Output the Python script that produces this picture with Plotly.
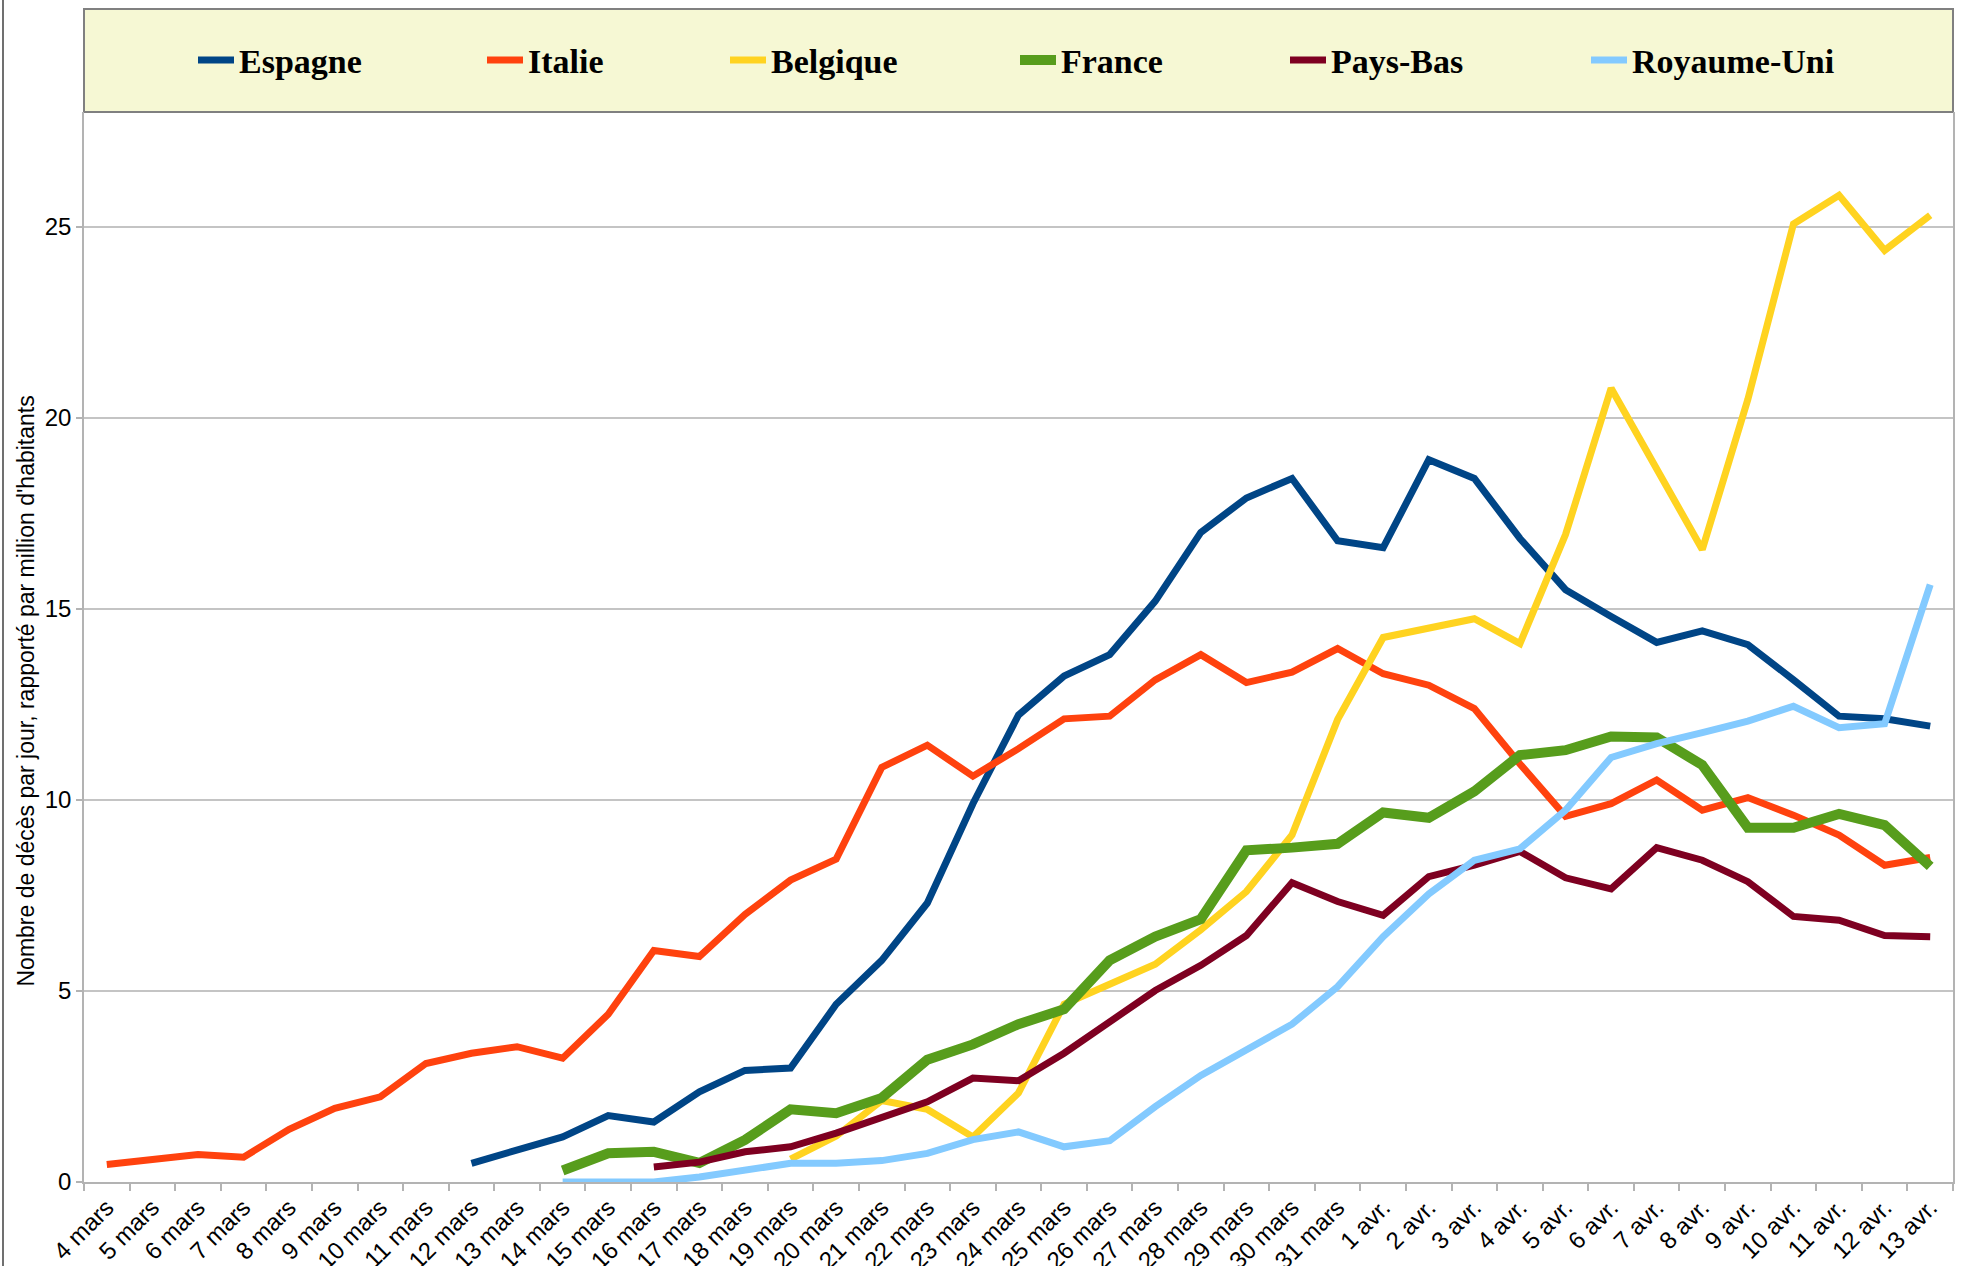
import plotly.graph_objects as go

categories = ["4 mars", "5 mars", "6 mars", "7 mars", "8 mars", "9 mars", "10 mars", "11 mars",
              "12 mars", "13 mars", "14 mars", "15 mars", "16 mars", "17 mars", "18 mars",
              "19 mars", "20 mars", "21 mars", "22 mars", "23 mars", "24 mars", "25 mars",
              "26 mars", "27 mars", "28 mars", "29 mars", "30 mars", "31 mars", "1 avr.",
              "2 avr.", "3 avr.", "4 avr.", "5 avr.", "6 avr.", "7 avr.", "8 avr.", "9 avr.",
              "10 avr.", "11 avr.", "12 avr.", "13 avr."]

N = None
espagne = [N, N, N, N, N, N, N, N,
           0.49, 0.82, 1.18, 1.74, 1.57, 2.36, 2.92, 2.98, 4.65, 5.8, 7.3, 9.9, 12.22,
           13.24, 13.8, 15.2, 17.0, 17.9, 18.41, 16.78, 16.6, 18.9, 18.41, 16.84, 15.5,
           14.8, 14.12, 14.42, 14.06, 13.14, 12.19, 12.12, 11.93]
italie = [0.46, 0.6, 0.72, 0.65, 1.38, 1.93, 2.23, 3.1, 3.37, 3.54, 3.24, 4.39, 6.06,
          5.9, 7.0, 7.9, 8.45, 10.85, 11.43, 10.62, 11.34, 12.12, 12.19, 13.14, 13.8,
          13.07, 13.34, 13.96, 13.3, 13.0, 12.39, 10.94, 9.57, 9.9, 10.52, 9.73, 10.06,
          9.6, 9.08, 8.29, 8.49]
belgique = [N, N, N, N, N, N, N, N, N, N, N, N, N, N, N,
            0.6, 1.2, 2.13, 1.9, 1.18, 2.33, 4.65, 5.2, 5.7, 6.6, 7.6, 9.08, 12.1, 14.25,
            14.5, 14.74, 14.09, 16.94, 20.77, 18.68, 16.55, 20.48, 25.07, 25.82, 24.38, 25.3]
france = [N, N, N, N, N, N, N, N, N, N,
          0.3, 0.75, 0.79, 0.5, 1.1, 1.9, 1.8, 2.2, 3.2, 3.6, 4.13, 4.52, 5.8, 6.42, 6.88,
          8.68, 8.75, 8.85, 9.67, 9.53, 10.22, 11.17, 11.3, 11.66, 11.63, 10.91, 9.27,
          9.27, 9.63, 9.34, 8.26]
pays_bas = [N, N, N, N, N, N, N, N, N, N, N, N,
            0.39, 0.52, 0.79, 0.92, 1.28, 1.67, 2.1, 2.72, 2.65, 3.37, 4.19, 5.01, 5.67,
            6.45, 7.83, 7.34, 6.98, 7.99, 8.29, 8.65, 7.96, 7.67, 8.75, 8.42, 7.86, 6.95,
            6.85, 6.45, 6.42]
royaume_uni = [N, N, N, N, N, N, N, N, N, N,
               0.0, 0.0, 0.0, 0.13, 0.33, 0.49, 0.49, 0.56, 0.75, 1.11, 1.31, 0.92, 1.08,
               1.97, 2.79, 3.44, 4.13, 5.11, 6.42, 7.54, 8.42, 8.72, 9.73, 11.11, 11.47,
               11.76, 12.06, 12.45, 11.89, 11.99, 15.63]

series_names = ["Espagne", "Italie", "Belgique", "France", "Pays-Bas", "Royaume-Uni"]
series_values = [espagne, italie, belgique, france, pays_bas, royaume_uni]
series_colors = ["#004586", "#ff420e", "#ffd320", "#579d1c", "#7e0021", "#83caff"]
series_widths = [7, 7, 7, 10, 7, 7]
legend_widths = [238, 192, 239, 219, 250, 205]

y_ticks = [0, 5, 10, 15, 20, 25]
y_title = "Nombre de décès par jour, rapporté par million d'habitants"

W, H = 1967, 1266
ML, MR, MT, MB = 84, 14, 112, 84
PW, PH = W - ML - MR, H - MT - MB

fig = go.Figure()
for name, vals, col, lw, legw in zip(series_names, series_values, series_colors,
                                     series_widths, legend_widths):
    fig.add_trace(go.Scatter(
        x=categories, y=vals, name=name, mode="lines",
        line=dict(color=col, width=lw), connectgaps=False,
        cliponaxis=False, legendwidth=legw,
    ))

# legend background box
fig.add_shape(type="rect", xref="paper", yref="paper",
              x0=0, x1=1, y0=1, y1=1 + (MT - 9) / PH,
              fillcolor="#f6f8d4", line=dict(color="#808080", width=2), layer="below")
# left frame line
fig.add_shape(type="line", xref="paper", yref="paper",
              x0=(3 - ML) / PW, x1=(3 - ML) / PW, y0=-MB / PH, y1=1 + MT / PH,
              line=dict(color="#707070", width=2))

# y-axis title (placed as in the reference, slightly below the axis centre)
fig.add_annotation(text=y_title, xref="paper", yref="paper",
                   x=(25.5 - ML) / PW, y=1 - (691 - MT) / PH,
                   xanchor="center", yanchor="middle", textangle=-90, showarrow=False,
                   font=dict(size=23, color="black",
                             family="Liberation Sans, Arial, sans-serif"))

fig.update_layout(
    width=W, height=H, autosize=False,
    margin=dict(l=ML, r=MR, t=MT, b=MB, autoexpand=False),
    paper_bgcolor="white", plot_bgcolor="white",
    font=dict(family="Liberation Sans, Arial, sans-serif", color="black", size=24),
    showlegend=True,
    legend=dict(
        orientation="h", x=(193 - ML) / PW, xanchor="left",
        y=1 + (MT - 60.5) / PH, yanchor="middle",
        bgcolor="rgba(0,0,0,0)", borderwidth=0,
        font=dict(family="Liberation Serif, Times New Roman, serif", size=34, color="black",
                  weight="bold"),
        itemwidth=36, traceorder="normal",
    ),
    xaxis=dict(
        type="category", range=[-0.5, 40.5], tickangle=-45,
        tickson="boundaries", ticks="outside", ticklen=7, tickcolor="#b3b3b3", tickwidth=1.5,
        showline=True, linecolor="#b3b3b3", linewidth=2, showgrid=False,
        tickfont=dict(size=24, color="black"), automargin=False,
    ),
    yaxis=dict(
        range=[0, 28], tickvals=y_ticks, ticks="outside", ticklen=6, tickcolor="#b3b3b3",
        tickwidth=1.5, showline=True, mirror=True, linecolor="#b3b3b3", linewidth=1.5,
        showgrid=True, gridcolor="#c4c4c4", gridwidth=1.5, zeroline=False,
        tickfont=dict(size=24, color="black"), automargin=False,
    ),
)

fig.write_html("out.html", config={"displayModeBar": False},
               post_script="document.body.style.margin='0';document.body.style.overflow='hidden';")
